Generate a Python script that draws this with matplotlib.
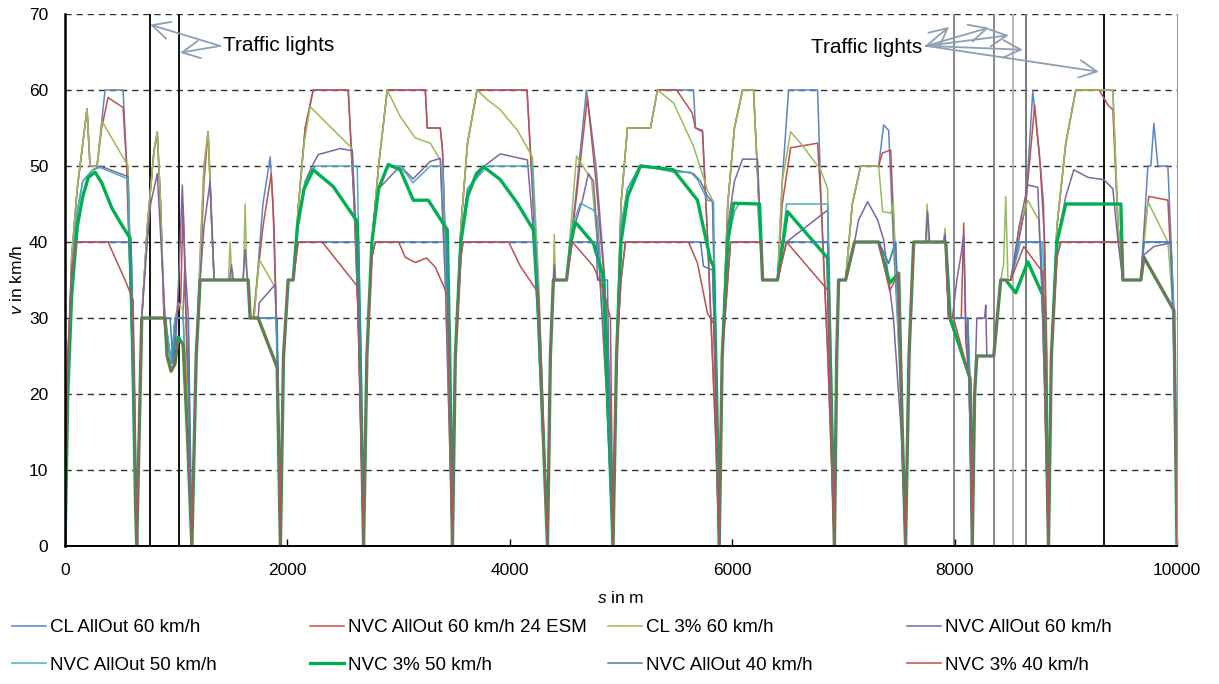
import matplotlib
matplotlib.use("Agg")
from matplotlib import pyplot as plt

plt.rcParams["font.family"] = "Liberation Sans"
plt.rcParams["mathtext.fontset"] = "custom"
plt.rcParams["mathtext.it"] = "Liberation Sans:italic"
plt.rcParams["mathtext.rm"] = "Liberation Sans"

# speed profiles: (s in m, v in km/h)
cl_allout_60 = [
    (0, 0), (25, 22), (60, 38), (110, 47), (198, 57.5), (225, 50), (288, 50), (360, 60), (522, 60), (555, 50), (600, 28), (645, 0),
    (690, 30), (740, 42), (800, 52), (830, 54.5), (860, 45), (890, 30), (920, 25), (960, 24), (990, 30), (1060, 30), (1075, 36), (1110, 20), (1141, 0),
    (1180, 25), (1215, 38), (1250, 50), (1287, 54.5), (1320, 42), (1341, 35), (1647, 35), (1665, 30), (1700, 30), (1780, 45), (1845, 51.2), (1870, 45), (1910, 25), (1937, 0),
    (1965, 25), (2007, 35), (2052, 35), (2100, 45), (2160, 55), (2232, 60), (2547, 60), (2600, 45), (2650, 25), (2685, 0),
    (2715, 25), (2760, 40), (2820, 50), (2898, 60), (3240, 60), (3258, 55), (3375, 55), (3395, 52), (3440, 30), (3484, 0),
    (3510, 25), (3560, 42), (3620, 53), (3705, 60), (4155, 60), (4200, 48), (4280, 25), (4339, 0),
    (4365, 25), (4392, 35), (4510, 35), (4600, 47), (4689, 60), (4775, 50), (4850, 36), (4900, 20), (4928, 0),
    (4960, 25), (5000, 45), (5058, 55), (5265, 55), (5328, 60), (5652, 60), (5670, 55), (5733, 54.7), (5780, 40), (5850, 15), (5883, 0),
    (5910, 25), (5960, 45), (6020, 55), (6093, 60), (6192, 60), (6273, 35), (6408, 35), (6450, 48), (6507, 60), (6768, 60), (6800, 45), (6860, 25), (6919, 0),
    (6940, 25), (6957, 35), (7020, 35), (7080, 45), (7155, 50), (7317, 50), (7362, 55.4), (7407, 54.7), (7450, 40), (7520, 20), (7559, 0),
    (7590, 25), (7632, 40), (7920, 40), (7947, 30), (8118, 30), (8140, 20), (8159, 0),
    (8180, 20), (8200, 25), (8352, 25), (8415, 35), (8505, 35), (8640, 45), (8703, 59.8), (8760, 52), (8800, 45), (8825, 25), (8844, 0),
    (8870, 25), (8920, 42), (9000, 53), (9090, 60), (9423, 60), (9470, 42), (9513, 35), (9675, 35), (9738, 50), (9765, 50), (9792, 55.6), (9828, 50), (9918, 50), (9972, 31), (10000, 0),
]

nvc_allout_60_esm = [
    (0, 0), (25, 22), (60, 38), (110, 47), (198, 57.5), (225, 50), (288, 50), (330, 55), (387, 59), (522, 57.7), (555, 50), (600, 28), (645, 0),
    (690, 30), (740, 42), (800, 52), (830, 54), (860, 45), (890, 30), (920, 25), (960, 24), (990, 30), (1040, 32), (1062, 45), (1080, 35), (1110, 18), (1141, 0),
    (1180, 25), (1215, 35), (1250, 48), (1287, 54.5), (1320, 42), (1341, 35), (1647, 35), (1665, 30), (1692, 30), (1780, 42), (1855, 49), (1880, 42), (1910, 25), (1937, 0),
    (1965, 25), (2007, 35), (2052, 35), (2100, 45), (2160, 55), (2232, 60), (2547, 60), (2600, 45), (2650, 25), (2685, 0),
    (2715, 25), (2760, 40), (2820, 50), (2898, 60), (3240, 60), (3258, 55), (3375, 55), (3395, 52), (3440, 30), (3484, 0),
    (3510, 25), (3560, 42), (3620, 53), (3705, 60), (4155, 60), (4200, 48), (4280, 25), (4339, 0),
    (4365, 25), (4392, 35), (4510, 35), (4600, 46), (4698, 59), (4775, 48), (4850, 35), (4900, 20), (4928, 0),
    (4960, 25), (5000, 45), (5058, 55), (5265, 55), (5328, 60), (5500, 60), (5640, 57), (5670, 55), (5733, 54.5), (5780, 40), (5850, 15), (5883, 0),
    (5910, 25), (5960, 45), (6020, 55), (6093, 60), (6192, 60), (6273, 35), (6408, 35), (6450, 45), (6525, 52.4), (6768, 53), (6800, 45), (6860, 25), (6919, 0),
    (6940, 25), (6957, 35), (7020, 35), (7080, 45), (7155, 50), (7317, 50), (7350, 51.7), (7425, 52.1), (7460, 40), (7520, 20), (7559, 0),
    (7590, 25), (7632, 40), (7920, 40), (7947, 30), (8060, 30), (8082, 42.5), (8100, 27), (8130, 22), (8159, 0),
    (8180, 20), (8200, 25), (8352, 25), (8415, 35), (8505, 35), (8640, 45), (8720, 58), (8770, 50), (8810, 40), (8830, 25), (8844, 0),
    (8870, 25), (8920, 42), (9000, 53), (9090, 60), (9300, 60), (9380, 58), (9423, 57.4), (9470, 42), (9513, 35), (9675, 35), (9710, 42), (9747, 46), (9918, 45.5), (9972, 30), (10000, 0),
]

cl_3pct_60 = [
    (0, 0), (25, 22), (60, 38), (110, 47), (198, 57.5), (225, 50), (288, 50), (333, 55.9), (567, 50), (600, 30), (645, 0),
    (690, 30), (740, 42), (800, 52), (830, 54.5), (860, 45), (890, 32), (918, 26), (960, 25), (990, 30), (1020, 32), (1060, 31), (1100, 20), (1141, 0),
    (1180, 25), (1215, 38), (1250, 50), (1287, 54.5), (1320, 42), (1341, 35), (1470, 35), (1485, 40), (1500, 35), (1605, 35), (1620, 45), (1635, 36), (1647, 35), (1665, 30), (1700, 30), (1746, 37.7), (1890, 34), (1915, 20), (1937, 0),
    (1965, 25), (2007, 35), (2052, 35), (2100, 45), (2150, 53), (2205, 57.8), (2583, 52.3), (2620, 40), (2655, 20), (2685, 0),
    (2715, 25), (2760, 40), (2820, 50), (2898, 60), (3015, 56.5), (3150, 53.7), (3285, 53), (3375, 50.8), (3420, 35), (3484, 0),
    (3510, 25), (3560, 42), (3620, 53), (3705, 60), (3800, 58.7), (3915, 57.4), (4068, 54.7), (4203, 51.2), (4260, 35), (4339, 0),
    (4365, 25), (4392, 35), (4400, 41), (4410, 35), (4510, 35), (4565, 45), (4600, 51.3), (4735, 48.2), (4800, 38), (4870, 20), (4928, 0),
    (4960, 25), (5000, 45), (5058, 55), (5265, 55), (5328, 60), (5472, 58.3), (5652, 52.6), (5778, 46.8), (5823, 45.5), (5860, 20), (5883, 0),
    (5910, 25), (5960, 45), (6020, 55), (6093, 60), (6192, 60), (6273, 35), (6408, 35), (6450, 48), (6525, 54.5), (6615, 53), (6795, 49.5), (6858, 47), (6890, 25), (6919, 0),
    (6940, 25), (6957, 35), (7020, 35), (7080, 45), (7155, 50), (7317, 50), (7353, 44), (7425, 43.8), (7450, 45), (7500, 25), (7559, 0),
    (7590, 25), (7632, 40), (7740, 40), (7752, 45), (7765, 40), (7900, 40), (7915, 41.8), (7930, 35), (7947, 30), (8000, 28), (8140, 22), (8159, 0),
    (8180, 20), (8200, 25), (8352, 25), (8415, 35), (8440, 37), (8460, 46), (8480, 35), (8520, 35), (8580, 42), (8658, 45.5), (8757, 42.9), (8810, 25), (8844, 0),
    (8870, 25), (8920, 42), (9000, 53), (9090, 60), (9423, 60), (9470, 42), (9513, 35), (9675, 35), (9738, 45.3), (9918, 40), (9972, 30), (10000, 0),
]

nvc_allout_60 = [
    (0, 0), (25, 22), (60, 36), (110, 44), (160, 48), (250, 49.5), (315, 50), (567, 48.6), (600, 30), (645, 0),
    (690, 30), (740, 40), (770, 45), (830, 49), (900, 30), (945, 25), (975, 24), (1000, 28), (1025, 36), (1055, 47.5), (1080, 37), (1110, 30), (1141, 0),
    (1180, 25), (1215, 35), (1250, 42), (1305, 48), (1341, 35), (1480, 35), (1497, 37), (1515, 35), (1600, 35), (1620, 39), (1640, 35), (1647, 35), (1665, 30), (1737, 30), (1746, 32), (1890, 34.4), (1910, 25), (1937, 0),
    (1965, 25), (2007, 35), (2052, 35), (2100, 43), (2160, 48), (2223, 50), (2277, 51.5), (2475, 52.3), (2583, 52), (2620, 40), (2685, 0),
    (2715, 25), (2760, 40), (2820, 47), (3015, 50), (3130, 48.3), (3285, 50.6), (3375, 51), (3420, 35), (3484, 0),
    (3510, 25), (3560, 40), (3620, 47), (3780, 50.1), (3915, 51.6), (4158, 50.8), (4220, 40), (4339, 0),
    (4365, 25), (4392, 35), (4400, 37), (4410, 35), (4510, 35), (4580, 42), (4653, 45.5), (4707, 49), (4752, 48), (4800, 38), (4870, 20), (4928, 0),
    (4960, 25), (5000, 42), (5058, 47), (5175, 50.1), (5472, 49.5), (5652, 49), (5715, 48), (5778, 46), (5823, 45.3), (5860, 20), (5883, 0),
    (5910, 25), (5960, 42), (6020, 48), (6093, 50.9), (6228, 50.9), (6273, 35), (6408, 35), (6450, 40), (6489, 40), (6858, 44.2), (6890, 20), (6919, 0),
    (6940, 25), (6957, 35), (7020, 35), (7100, 40), (7137, 42.9), (7218, 45.3), (7308, 42.9), (7362, 40.3), (7450, 30), (7520, 15), (7559, 0),
    (7590, 25), (7632, 40), (7740, 40), (7758, 44), (7775, 40), (7900, 40), (7915, 41), (7930, 35), (7947, 30), (7980, 30), (8020, 35), (8060, 38.5), (8082, 41), (8100, 30), (8130, 22), (8159, 0),
    (8180, 20), (8200, 30), (8270, 30), (8280, 31.7), (8290, 25), (8352, 25), (8415, 35), (8505, 35), (8580, 42), (8658, 47.5), (8748, 47.2), (8810, 25), (8844, 0),
    (8870, 25), (8920, 40), (9000, 46), (9072, 49.5), (9200, 48.5), (9342, 48.2), (9423, 47), (9470, 40), (9513, 35), (9675, 35), (9702, 38.3), (9792, 39.4), (9945, 39.9), (9972, 30), (10000, 0),
]

nvc_allout_50 = [
    (0, 0), (25, 22), (60, 36), (110, 44), (160, 48), (250, 49.5), (315, 49.8), (567, 48.3), (600, 30), (645, 0),
    (690, 30), (900, 30), (960, 24), (990, 30), (1062, 30), (1100, 15), (1141, 0),
    (1180, 25), (1215, 35), (1647, 35), (1665, 30), (1900, 30), (1937, 0),
    (1965, 25), (2007, 35), (2052, 35), (2100, 43), (2160, 48), (2250, 50), (2628, 50), (2660, 25), (2685, 0),
    (2715, 25), (2760, 40), (2820, 47), (2910, 50), (3015, 50), (3130, 47.8), (3285, 50), (3395, 50), (3440, 30), (3484, 0),
    (3510, 25), (3560, 40), (3620, 47), (3800, 50), (4203, 50), (4260, 30), (4339, 0),
    (4365, 25), (4392, 35), (4510, 35), (4560, 42), (4635, 45.1), (4752, 44.2), (4788, 43.3), (4850, 30), (4928, 0),
    (4960, 25), (5000, 42), (5058, 47), (5175, 50.1), (5472, 49.2), (5625, 49.2), (5688, 48.2), (5778, 45.5), (5832, 45.3), (5860, 20), (5883, 0),
    (5910, 25), (5960, 40), (6020, 44), (6060, 45), (6228, 45), (6273, 35), (6408, 35), (6489, 45), (6858, 45), (6890, 20), (6919, 0),
    (6940, 25), (6957, 35), (7020, 35), (7100, 40), (7317, 40), (7407, 37.2), (7470, 40), (7520, 20), (7559, 0),
    (7590, 25), (7632, 40), (7920, 40), (7947, 30), (8118, 30), (8140, 22), (8159, 0),
    (8180, 20), (8200, 25), (8352, 25), (8415, 35), (8505, 35), (8595, 40), (8793, 40), (8820, 20), (8844, 0),
    (8870, 25), (8920, 40), (8970, 43), (9000, 45), (9495, 45), (9513, 35), (9675, 35), (9702, 40), (9945, 40), (9972, 30), (10000, 0),
]

nvc_3pct_50 = [
    (0, 0), (25, 20), (60, 33), (110, 42), (160, 46), (210, 48.5), (270, 49.2), (330, 47.8), (420, 44.5), (500, 42.5), (585, 40.5), (610, 25), (635, 5), (645, 0),
    (690, 30), (900, 30), (918, 25), (954, 23), (990, 24), (1017, 27.5), (1062, 26.5), (1100, 15), (1141, 0),
    (1180, 25), (1215, 35), (1647, 35), (1665, 30), (1737, 30), (1908, 23.5), (1937, 0),
    (1965, 25), (2007, 35), (2052, 35), (2090, 42), (2150, 47), (2232, 49.5), (2412, 47.3), (2628, 42.7), (2655, 25), (2685, 0),
    (2715, 25), (2760, 40), (2820, 47), (2907, 50.2), (3015, 49.5), (3132, 45.5), (3267, 45.5), (3438, 41.6), (3460, 25), (3484, 0),
    (3510, 25), (3560, 40), (3620, 46), (3700, 49), (3762, 49.9), (3800, 49.5), (3915, 48.2), (4068, 45.1), (4212, 41.6), (4260, 30), (4339, 0),
    (4365, 25), (4392, 35), (4510, 35), (4550, 40), (4590, 42.6), (4752, 39.8), (4842, 35.4), (4880, 20), (4928, 0),
    (4960, 25), (5000, 40), (5060, 46), (5175, 50), (5472, 49.5), (5688, 45.5), (5805, 37.6), (5832, 36.8), (5860, 20), (5883, 0),
    (5910, 25), (5960, 40), (6012, 45.1), (6246, 45), (6273, 35), (6408, 35), (6498, 44), (6858, 37.9), (6890, 20), (6919, 0),
    (6940, 25), (6957, 35), (7020, 35), (7100, 40), (7317, 40), (7416, 34.6), (7497, 35.9), (7530, 15), (7559, 0),
    (7590, 25), (7632, 40), (7920, 40), (7960, 30), (8140, 22), (8159, 0),
    (8180, 20), (8200, 25), (8352, 25), (8415, 35), (8460, 35), (8550, 33.3), (8658, 37.4), (8793, 33), (8820, 20), (8844, 0),
    (8870, 25), (8920, 40), (9000, 45), (9495, 45), (9513, 35), (9675, 35), (9702, 38), (9972, 31), (10000, 0),
]

nvc_allout_40 = [
    (0, 0), (25, 25), (60, 36), (100, 40), (594, 40), (620, 20), (645, 0),
    (690, 30), (945, 30), (972, 24), (999, 30), (1107, 30), (1125, 10), (1141, 0),
    (1180, 25), (1215, 35), (1647, 35), (1665, 30), (1908, 30), (1920, 15), (1937, 0),
    (1965, 25), (2007, 35), (2052, 35), (2097, 40), (2637, 40), (2660, 20), (2685, 0),
    (2715, 25), (2760, 38), (2790, 40), (3438, 40), (3460, 20), (3484, 0),
    (3510, 25), (3560, 38), (3580, 40), (4230, 40), (4290, 20), (4339, 0),
    (4365, 25), (4392, 35), (4510, 35), (4560, 40), (4779, 40), (4788, 35), (4878, 35), (4900, 15), (4928, 0),
    (4960, 25), (5000, 35), (5040, 40), (5715, 40), (5742, 36.8), (5823, 36.3), (5860, 20), (5883, 0),
    (5910, 25), (5960, 35), (5985, 40), (6265, 40), (6273, 35), (6408, 35), (6489, 40), (6858, 40), (6890, 20), (6919, 0),
    (6940, 25), (6957, 35), (7020, 35), (7100, 40), (7317, 40), (7407, 37.2), (7470, 40), (7520, 20), (7559, 0),
    (7590, 25), (7632, 40), (7920, 40), (7947, 30), (8118, 30), (8140, 15), (8159, 0),
    (8180, 20), (8200, 25), (8352, 25), (8415, 35), (8505, 35), (8577, 40), (8775, 40), (8810, 20), (8844, 0),
    (8870, 25), (8920, 38), (8955, 40), (9504, 40), (9513, 35), (9675, 35), (9702, 40), (9945, 40), (9972, 25), (10000, 0),
]

nvc_3pct_40 = [
    (0, 0), (25, 25), (60, 36), (100, 40), (387, 40), (540, 35), (612, 32.4), (630, 18), (645, 0),
    (690, 30), (900, 30), (918, 25), (954, 23), (990, 24), (1017, 27), (1062, 26.5), (1100, 15), (1141, 0),
    (1180, 25), (1215, 35), (1647, 35), (1665, 30), (1737, 30), (1908, 23.5), (1937, 0),
    (1965, 25), (2007, 35), (2052, 35), (2097, 40), (2313, 40), (2628, 34.2), (2660, 15), (2685, 0),
    (2715, 25), (2760, 38), (2790, 40), (3000, 40), (3060, 38), (3150, 37.3), (3250, 37.9), (3330, 36.7), (3440, 33), (3462, 15), (3484, 0),
    (3510, 25), (3560, 38), (3580, 40), (3990, 40), (4095, 36.8), (4257, 33.3), (4300, 15), (4339, 0),
    (4365, 25), (4392, 35), (4510, 35), (4563, 40), (4752, 36.8), (4842, 33.7), (4905, 30), (4928, 0),
    (4960, 25), (5000, 35), (5040, 40), (5607, 40), (5688, 37.2), (5778, 30.6), (5832, 29.3), (5860, 15), (5883, 0),
    (5910, 25), (5960, 35), (5985, 40), (6265, 40), (6273, 35), (6408, 35), (6489, 40), (6858, 33.7), (6890, 15), (6919, 0),
    (6940, 25), (6957, 35), (7020, 35), (7100, 40), (7317, 40), (7416, 33.6), (7497, 35.9), (7530, 15), (7559, 0),
    (7590, 25), (7632, 40), (7920, 40), (7947, 30), (7990, 30), (8140, 22), (8159, 0),
    (8180, 20), (8200, 25), (8352, 25), (8415, 35), (8505, 35), (8622, 39.4), (8793, 36), (8820, 15), (8844, 0),
    (8870, 25), (8920, 38), (8955, 40), (9504, 40), (9513, 35), (9675, 35), (9702, 38), (9972, 31), (9985, 20), (10000, 0),
]

series = [cl_allout_60, nvc_allout_60_esm, cl_3pct_60, nvc_allout_60,
          nvc_allout_50, nvc_3pct_50, nvc_allout_40, nvc_3pct_40]
labels = ["CL AllOut 60 km/h", "NVC AllOut 60 km/h 24 ESM", "CL 3% 60 km/h", "NVC AllOut 60 km/h",
          "NVC AllOut 50 km/h", "NVC 3% 50 km/h", "NVC AllOut 40 km/h", "NVC 3% 40 km/h"]
colors = ["#5A86C2", "#C0504D", "#9BBB59", "#8064A2", "#4BACC6", "#00B050", "#4A7EBB", "#C0504D"]
widths = [1.1, 1.1, 1.1, 1.1, 1.1, 2.4, 1.1, 1.1]

# traffic light positions (m)
lights_left = [765, 1026]
lights_right = [7992, 8352, 8523, 8640, 9342]
light_colors_right = ["#7f7f7f", "#7f7f7f", "#b0b0b0", "#6f6f6f", "black"]

fig = plt.figure(figsize=(12.19, 6.84), dpi=100)
ax = fig.add_axes([65 / 1219, 1 - 546 / 684, 1112 / 1219, 532 / 684])

for yv in range(10, 80, 10):
    ax.axhline(yv, color="#2e2e2e", lw=1.0, ls=(0, (4.5, 3.5)), zorder=0)

for x in lights_left:
    ax.axvline(x, color="black", lw=1.3, zorder=1)
for x, c in zip(lights_right, light_colors_right):
    ax.axvline(x, color=c, lw=1.3, zorder=1)

lines = []
for data, lab, col, lw in zip(series, labels, colors, widths):
    s, v = zip(*data)
    ln, = ax.plot(s, v, color=col, lw=lw, label=lab, zorder=2)
    lines.append(ln)

arrow_kw = dict(arrowstyle="->,head_length=0.7,head_width=0.35", color="#8C9FB5", lw=1.3,
                mutation_scale=18, shrinkA=0, shrinkB=0)
ax.text(1420, 65.8, "Traffic lights", fontsize=15, va="center", ha="left")
for target in [(765, 68.6), (1035, 64.9)]:
    ax.annotate("", xy=target, xytext=(1395, 65.8), arrowprops=arrow_kw)
ax.text(6705, 65.6, "Traffic lights", fontsize=15, va="center", ha="left")
for target in [(7950, 68.3), (8307, 68.2), (8487, 67.2), (8613, 65.3), (9297, 62.4)]:
    ax.annotate("", xy=target, xytext=(7745, 65.8), arrowprops=arrow_kw)

ax.set_xlim(0, 10000)
ax.set_ylim(0, 70)
ax.set_xticks(range(0, 10001, 2000))
ax.set_yticks(range(0, 71, 10))
ax.tick_params(axis="x", direction="in", length=5, width=1, labelsize=12.5, pad=12)
ax.tick_params(axis="y", length=0, labelsize=12.5, pad=12)
ax.spines["top"].set_visible(False)
ax.spines["right"].set_color("#9a9a9a")
ax.spines["left"].set_linewidth(1.8)
ax.spines["bottom"].set_linewidth(1.4)
ax.set_xlabel(r"$s$ in m", fontsize=12.5, labelpad=9)
ax.set_ylabel(r"$v$ in km/h", fontsize=12.5, labelpad=3)

# legend: four columns with two rows each, like the original layout
col_x = [12, 310, 608, 907]
for k, x in enumerate(col_x):
    fig.legend(handles=[lines[k], lines[k + 4]], loc="upper left",
               bbox_to_anchor=(x / 1219, 1 - 619 / 684), frameon=False, fontsize=13.5,
               handlelength=1.8, handletextpad=0.25, labelspacing=1.1,
               borderpad=0, borderaxespad=0)

fig.savefig("out.png", dpi=100)
